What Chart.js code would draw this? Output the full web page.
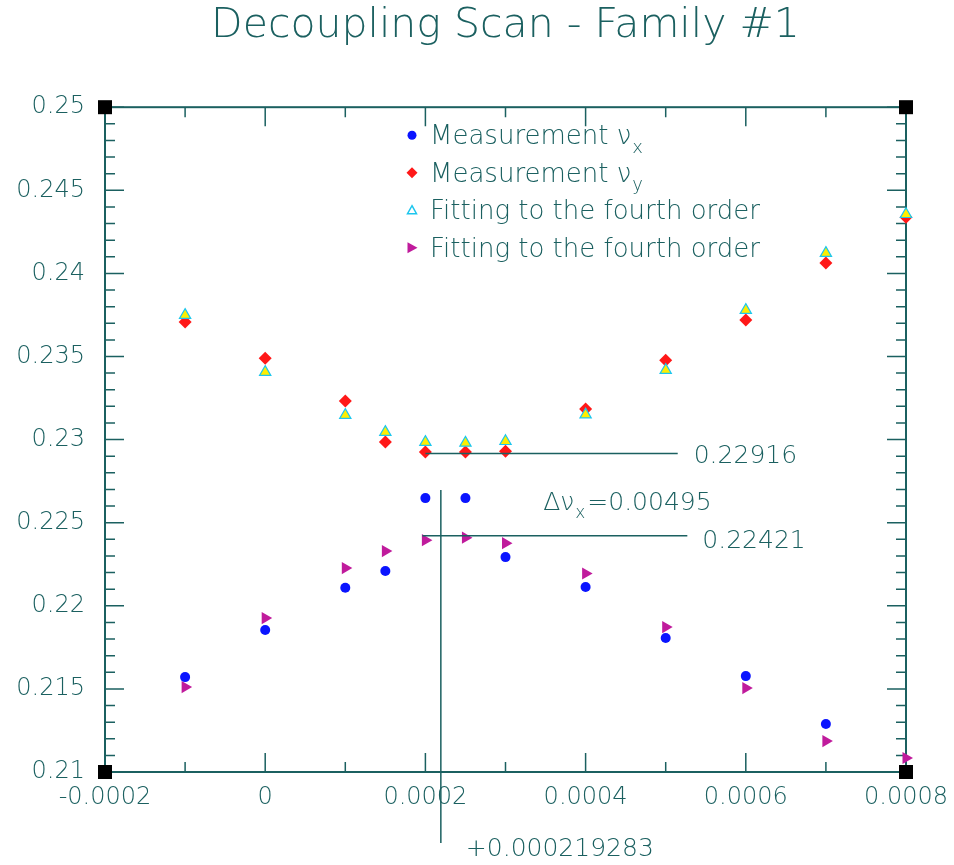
<!DOCTYPE html>
<html>
<head>
<meta charset="utf-8">
<title>Decoupling Scan - Family #1</title>
<script src="https://cdn.jsdelivr.net/npm/chart.js@4.4.1/dist/chart.umd.min.js"></script>
<style>
  html, body { margin: 0; padding: 0; background: #fff; }
  #wrap { width: 954px; height: 865px; }
</style>
</head>
<body>
<div id="wrap"><canvas id="myChart" width="954" height="865"></canvas></div>
<script>
    // scan settings (skew strength) and tunes at each setting
    const skewStrength  = [-0.0001, 0, 0.0001, 0.00015, 0.0002, 0.00025, 0.0003, 0.0004, 0.0005, 0.0006, 0.0007, 0.0008];
    const tuneXMeasured = [0.21571, 0.21854, 0.22109, 0.22209, 0.22648, 0.22648, 0.22293, 0.22113, 0.21806, 0.21577, 0.21289, null];
    const tuneYMeasured = [0.23707, 0.23490, 0.23232, 0.22985, 0.22925, 0.22925, 0.22930, 0.23184, 0.23478, 0.23719, 0.24062, 0.24338];
    const tuneYFit      = [0.23749, 0.23406, 0.23147, 0.23045, 0.22985, 0.22980, 0.22990, 0.23150, 0.23418, 0.23779, 0.24122, 0.24356];
    const tuneXFit      = [0.21511, 0.21926, 0.22227, 0.22329, 0.22395, 0.22410, 0.22377, 0.22194, 0.21872, 0.21505, 0.21186, 0.21084];

    const xTicks      = [-0.0002, 0, 0.0002, 0.0004, 0.0006, 0.0008];
    const xTickLabels = ['-0.0002', '0', '0.0002', '0.0004', '0.0006', '0.0008'];
    const yTicks      = [0.21, 0.215, 0.22, 0.225, 0.23, 0.235, 0.24, 0.245, 0.25];
    const yTickLabels = ['0.21', '0.215', '0.22', '0.225', '0.23', '0.235', '0.24', '0.245', '0.25'];

    // result of the fit: closest approach of the two tunes
    const fitTuneY    = 0.22916;
    const fitTuneX    = 0.22421;
    const tuneSplit   = 0.00495;
    const minStrength = 0.000219283;

    const INK  = '#1b6060';
    const FONT = '"DejaVu Sans", sans-serif';

    function points(ys) {
      return skewStrength.map((x, i) => ({ x: x, y: ys[i] }));
    }

    // text with a subscript part, e.g. ν + x
    function drawSub(ctx, main, sub, x, y, size) {
      ctx.font = '200 ' + size + 'px ' + FONT;
      ctx.fillText(main, x, y);
      let w = ctx.measureText(main).width;
      if (sub) {
        ctx.font = '200 ' + Math.round(size * 0.68) + 'px ' + FONT;
        ctx.fillText(sub, x + w + 1, y + size * 0.32);
        w += 1 + ctx.measureText(sub).width;
      }
      return w;
    }

    function marker(ctx, ds, x, y) {
      const r = 5.5;
      ctx.save();
      ctx.translate(x, y);
      ctx.beginPath();
      if (ds.pointStyle === 'circle') {
        ctx.arc(0, 0, 4.5, 0, Math.PI * 2);
        ctx.fillStyle = ds.backgroundColor; ctx.fill();
      } else if (ds.pointStyle === 'rectRot') {
        ctx.moveTo(0, -r); ctx.lineTo(r, 0); ctx.lineTo(0, r); ctx.lineTo(-r, 0); ctx.closePath();
        ctx.fillStyle = ds.backgroundColor; ctx.fill();
      } else if (ds.rotation === 90) {
        ctx.moveTo(-r + 1, -r); ctx.lineTo(r, 0); ctx.lineTo(-r + 1, r); ctx.closePath();
        ctx.fillStyle = ds.backgroundColor; ctx.fill();
      } else {
        ctx.moveTo(0, -r + 1); ctx.lineTo(r - 1, r - 2); ctx.lineTo(-r + 1, r - 2); ctx.closePath();
        ctx.fillStyle = '#fff'; ctx.fill();
        ctx.strokeStyle = ds.borderColor; ctx.lineWidth = 1.5; ctx.stroke();
      }
      ctx.restore();
    }

    // frame, inward ticks and the black corner squares
    const framePlugin = {
      id: 'frame',
      beforeDatasetsDraw(chart) {
        const { ctx, chartArea: a, scales: { x, y } } = chart;
        ctx.save();
        ctx.strokeStyle = INK;
        ctx.lineWidth = 2;
        ctx.strokeRect(a.left, a.top, a.right - a.left, a.bottom - a.top);
        ctx.lineWidth = 1.5;
        ctx.beginPath();
        for (let i = 0; i <= 10; i++) {
          const px = x.getPixelForValue(-0.0002 + i * 0.0001);
          const len = i % 2 === 0 ? 19 : 10;
          ctx.moveTo(px, a.bottom); ctx.lineTo(px, a.bottom - len);
          ctx.moveTo(px, a.top); ctx.lineTo(px, a.top + len);
        }
        for (let i = 0; i <= 40; i++) {
          const py = y.getPixelForValue(0.21 + i * 0.001);
          const len = i % 5 === 0 ? 19 : 10;
          ctx.moveTo(a.left, py); ctx.lineTo(a.left + len, py);
          ctx.moveTo(a.right, py); ctx.lineTo(a.right - len, py);
        }
        ctx.stroke();
        ctx.fillStyle = '#000';
        [[a.left, a.top], [a.right, a.top], [a.left, a.bottom], [a.right, a.bottom]].forEach(([cx, cy]) => {
          ctx.fillRect(cx - 7, cy - 7, 14, 14);
        });
        ctx.restore();
      }
    };

    // fit result guides and the in-plot legend
    const notesPlugin = {
      id: 'notes',
      afterDatasetsDraw(chart) {
        const { ctx, chartArea: a, scales: { x, y } } = chart;
        ctx.save();
        ctx.strokeStyle = INK;
        ctx.fillStyle = INK;
        ctx.lineWidth = 1.5;
        ctx.textBaseline = 'alphabetic';

        const x0 = x.getPixelForValue(0.0002);
        const yTop = y.getPixelForValue(fitTuneY);
        const yBot = y.getPixelForValue(fitTuneX);
        const endTop = x.getPixelForValue(0.000515);
        const endBot = x.getPixelForValue(0.000527);
        const xMin = x.getPixelForValue(minStrength);

        ctx.beginPath();
        ctx.moveTo(x0, yTop); ctx.lineTo(endTop, yTop);
        ctx.moveTo(x0 - 3, yBot); ctx.lineTo(endBot, yBot);
        ctx.moveTo(xMin, y.getPixelForValue(0.22696)); ctx.lineTo(xMin, a.bottom + 71);
        ctx.stroke();

        drawSub(ctx, fitTuneY.toFixed(5), null, endTop + 16, yTop + 9, 25);
        drawSub(ctx, fitTuneX.toFixed(5), null, endBot + 15, yBot + 12, 25);
        const lx = x.getPixelForValue(0.000347);
        const w = drawSub(ctx, 'Δν', 'x', lx, (yTop + yBot) / 2 + 15, 25);
        drawSub(ctx, '=' + tuneSplit.toFixed(5), null, lx + w + 2, (yTop + yBot) / 2 + 15, 25);
        drawSub(ctx, '+' + minStrength.toFixed(9), null, xMin + 25, a.bottom + 84, 25);

        chart.data.datasets.forEach((ds, i) => {
          const ly = a.top + 28 + i * 37.5;
          marker(ctx, ds, a.left + 307, ly);
          ctx.fillStyle = INK;
          drawSub(ctx, ds.label, ds.sub, a.left + 325, ly + 9, 26);
        });
        ctx.restore();
      }
    };

    const data = {
      datasets: [{
        label: 'Measurement ν', sub: 'x',
        data: points(tuneXMeasured),
        pointStyle: 'circle', pointRadius: 5,
        backgroundColor: '#0a14ff', borderColor: '#0a14ff', borderWidth: 0,
        order: 1
      }, {
        label: 'Measurement ν', sub: 'y',
        data: points(tuneYMeasured),
        pointStyle: 'rectRot', pointRadius: 6.5,
        backgroundColor: '#ff1818', borderColor: '#ff1818', borderWidth: 0,
        order: 2
      }, {
        label: 'Fitting to the fourth order',
        data: points(tuneYFit),
        pointStyle: 'triangle', pointRadius: 6.5,
        backgroundColor: '#ffee00', borderColor: '#1cc6ee', borderWidth: 1.2,
        order: 0
      }, {
        label: 'Fitting to the fourth order',
        data: points(tuneXFit),
        pointStyle: 'triangle', rotation: 90, pointRadius: 7,
        backgroundColor: '#c01b9c', borderColor: '#c01b9c', borderWidth: 0,
        order: 3
      }]
    };

    const config = {
      type: 'scatter',
      data,
      options: {
        responsive: false,
        animation: false,
        clip: false,
        layout: { padding: { top: 0, right: 48, bottom: 0, left: 0 } },
        plugins: {
          legend: { display: false },
          tooltip: { enabled: false },
          title: {
            display: true,
            fullSize: false,
            text: 'Decoupling Scan - Family #1',
            color: INK,
            font: { family: FONT, size: 41, weight: '200' },
            padding: { top: 2, bottom: 56 }
          }
        },
        scales: {
          x: {
            type: 'linear',
            min: -0.0002, max: 0.0008,
            grid: { display: false, drawTicks: false },
            border: { display: false },
            afterBuildTicks: s => { s.ticks = xTicks.map(v => ({ value: v })); },
            afterFit: s => { s.height = 93; s.paddingLeft = 0; s.paddingRight = 0; },
            ticks: {
              color: INK, padding: 11, maxRotation: 0, autoSkip: false,
              font: { family: FONT, size: 24, weight: '200' },
              callback: (v, i) => xTickLabels[i]
            }
          },
          y: {
            type: 'linear',
            min: 0.21, max: 0.25,
            grid: { display: false, drawTicks: false },
            border: { display: false },
            afterBuildTicks: s => { s.ticks = yTicks.map(v => ({ value: v })); },
            afterFit: s => { s.width = 105; s.paddingTop = 0; s.paddingBottom = 0; },
            ticks: {
              color: INK, padding: 20, autoSkip: false,
              font: { family: FONT, size: 24, weight: '200' },
              callback: (v, i) => yTickLabels[i]
            }
          }
        }
      },
      plugins: [framePlugin, notesPlugin]
    };

    const myChart = new Chart(document.getElementById('myChart'), config);
</script>
</body>
</html>
